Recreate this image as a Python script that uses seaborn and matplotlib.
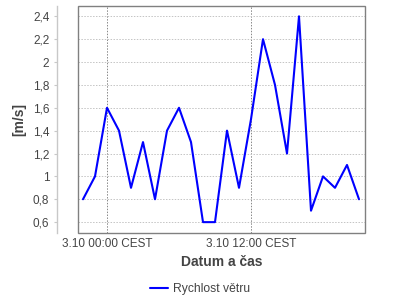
import matplotlib
matplotlib.use("Agg")
import matplotlib.pyplot as plt
import matplotlib.dates as mdates
from matplotlib.ticker import FuncFormatter, FixedLocator
from matplotlib.patches import Rectangle
import seaborn as sns
import pandas as pd

times = pd.date_range("2023-10-02 22:00", periods=24, freq="h")
speed = [0.8, 1.0, 1.6, 1.4, 0.9, 1.3, 0.8, 1.4, 1.6, 1.3, 0.6, 0.6,
         1.4, 0.9, 1.5, 2.2, 1.8, 1.2, 2.4, 0.7, 1.0, 0.9, 1.1, 0.8]
series_name = "Rychlost větru"
y_ticks = [0.6, 0.8, 1.0, 1.2, 1.4, 1.6, 1.8, 2.0, 2.2, 2.4]
x_label = "Datum a čas"
y_label = "[m/s]"

df = pd.DataFrame({"time": times, "speed": speed})

sns.set_theme(style="white")
plt.rcParams["font.family"] = ["Liberation Sans", "DejaVu Sans"]

fig = plt.figure(figsize=(4, 3), dpi=100)
ax = fig.add_axes([78 / 400, 1 - 233 / 300, (365 - 78) / 400, (233 - 6) / 300])

sns.lineplot(data=df, x="time", y="speed", ax=ax, color="#0000ff",
             linewidth=1.5, label=series_name, legend=False)

ax.set_xlim(times[0] - pd.Timedelta(minutes=25), times[-1] + pd.Timedelta(minutes=30))
ax.set_ylim(0.505, 2.49)

ax.yaxis.set_major_locator(FixedLocator(y_ticks))
ax.yaxis.set_major_formatter(FuncFormatter(lambda v, p: f"{v:g}".replace(".", ",")))
ax.xaxis.set_major_locator(mdates.HourLocator(byhour=[0, 12]))


def fmt_date(v, p):
    d = mdates.num2date(v)
    return f"{d.day}.{d.month} {d:%H:%M} CEST"


ax.xaxis.set_major_formatter(FuncFormatter(fmt_date))

ax.grid(axis="y", color="#c4c4c4", linestyle=(0, (1.5, 1.5)), linewidth=0.7)
ax.grid(axis="x", color="#888888", linestyle=(0, (1.5, 1.5)), linewidth=0.7)

for s in ["top", "right", "bottom"]:
    ax.spines[s].set_visible(False)
ax.spines["left"].set_position(("outward", 21 * 0.72))
ax.spines["left"].set_color("#c8c8c8")
ax.spines["left"].set_linewidth(1.0)
ax.add_patch(Rectangle((0, 0), 1, 1, transform=ax.transAxes, fill=False,
                       edgecolor="#808080", linewidth=1.0, clip_on=False, zorder=5))

ax.tick_params(axis="y", colors="#c8c8c8", labelcolor="#444444", labelsize=8.5,
               length=2, width=0.8, pad=3.5, left=True, direction="out")
ax.tick_params(axis="x", labelcolor="#444444", labelsize=8.5, length=0, pad=3.5)

ax.set_xlabel(x_label, fontsize=10, fontweight="bold", color="#444444", labelpad=4)
ax.set_ylabel(y_label, fontsize=10, fontweight="bold", color="#444444", labelpad=5)

handles, labels = ax.get_legend_handles_labels()
fig.legend(handles, labels, loc="center", bbox_to_anchor=(0.5, 1 - 289 / 300),
           frameon=False, fontsize=8.75, handlelength=1.5, handletextpad=0.4,
           labelcolor="#444444")

fig.savefig("out.png", dpi=100)
